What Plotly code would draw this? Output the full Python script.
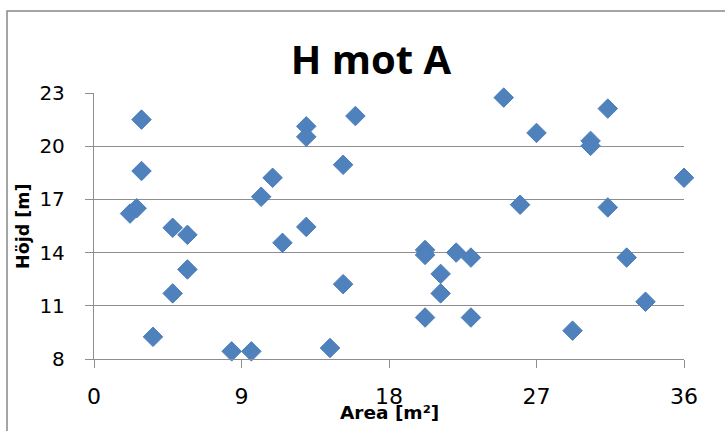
import plotly.graph_objects as go

# Area [m²] and height [m] for each sample
area = [2.9, 2.9, 2.2, 2.6, 4.8, 5.7, 5.7, 4.8, 3.6, 8.4,
        9.6, 10.2, 10.9, 11.5, 12.95, 12.95, 12.95, 15.95, 15.2, 15.2,
        14.4, 20.2, 20.2, 21.15, 21.15, 20.2, 22.1, 23.0, 23.0, 25.0,
        26.0, 27.0, 29.2, 30.3, 30.3, 31.35, 31.35, 32.5, 33.65, 36.0]
height = [21.5, 18.6, 16.2, 16.5, 15.4, 15.0, 13.05, 11.7, 9.25, 8.43,
          8.43, 17.15, 18.22, 14.55, 21.12, 20.53, 15.45, 21.7, 18.95, 12.22,
          8.62, 14.15, 13.87, 12.8, 11.7, 10.34, 14.0, 13.72, 10.34, 22.74,
          16.7, 20.75, 9.6, 20.3, 20.02, 22.12, 16.55, 13.72, 11.23, 18.22]

x_ticks = [0, 9, 18, 27, 36]
y_ticks = [8, 11, 14, 17, 20, 23]

W, H = 725, 431
L, R, T, B = 94, 41, 93, 72
pw, ph = W - L - R, H - T - B

grid = "#8E8E8E"

fig = go.Figure(
    go.Scatter(
        x=area, y=height, mode="markers",
        marker=dict(symbol="diamond", size=15, color="#4F81BD",
                    line=dict(color="#4A7DBA", width=1)),
        cliponaxis=False,
    )
)

fig.update_layout(
    width=W, height=H,
    margin=dict(l=L, r=R, t=T, b=B, pad=0),
    paper_bgcolor="white", plot_bgcolor="white",
    showlegend=False,
    title=dict(text="<b>H mot A</b>", x=371 / W, xanchor="center",
               y=1 - 60 / H, yanchor="middle", yref="container",
               font=dict(family="Open Sans", size=40, color="black",
                         weight="bold")),
    xaxis=dict(range=[0, 36], tickvals=x_ticks, ticktext=[str(v) for v in x_ticks],
               showgrid=False, zeroline=False, showline=True,
               linecolor=grid, linewidth=1.3,
               ticks="outside", ticklen=8, tickcolor=grid, tickwidth=1.3,
               ticklabelstandoff=9,
               tickfont=dict(family="DejaVu Sans", size=22, color="black")),
    yaxis=dict(range=[8, 23], tickvals=y_ticks, ticktext=[str(v) for v in y_ticks],
               showgrid=True, gridcolor=grid, gridwidth=1.3,
               zeroline=False, showline=True, linecolor=grid, linewidth=1.3,
               ticks="outside", ticklen=8, tickcolor=grid, tickwidth=1.3,
               ticklabelstandoff=16,
               tickfont=dict(family="DejaVu Sans", size=20, color="black")),
    shapes=[dict(type="rect", xref="paper", yref="paper",
                 x0=(7 - L) / pw, x1=(740 - L) / pw,
                 y0=-(450 - (T + ph)) / ph, y1=1 + (T - 11) / ph,
                 line=dict(color="#888888", width=1.5), fillcolor="rgba(0,0,0,0)",
                 layer="below")],
    annotations=[
        dict(text="<b>Area [m²]</b>", xref="paper", yref="paper",
             x=(389 - L) / pw, y=-(412 - (T + ph)) / ph,
             xanchor="center", yanchor="middle", showarrow=False,
             font=dict(family="DejaVu Sans", size=18.5, color="black")),
        dict(text="<b>Höjd [m]</b>", xref="paper", yref="paper",
             x=(23 - L) / pw, y=0.5, textangle=-90,
             xanchor="center", yanchor="middle", showarrow=False,
             font=dict(family="DejaVu Sans", size=17.5, color="black")),
    ],
)

fig.write_html("out.html")
